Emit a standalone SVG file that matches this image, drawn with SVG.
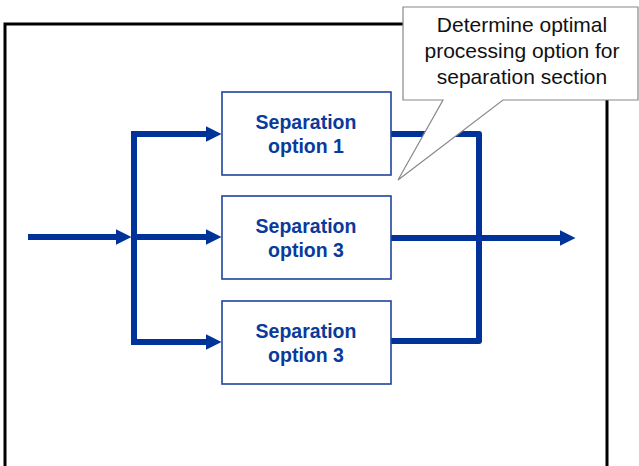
<svg xmlns="http://www.w3.org/2000/svg" width="639" height="466" viewBox="0 0 639 466">
<defs>
<style>
.box{fill:#fff;stroke:#1f44a0;stroke-width:1.6}
.lbl{font-family:"Liberation Sans",Arial,sans-serif;font-weight:bold;font-size:19.5px;fill:#0a3a9a;text-anchor:middle}
.call{font-family:"Liberation Sans",Arial,sans-serif;font-size:21px;fill:#111;text-anchor:middle}
.flow{fill:none;stroke:#003399;stroke-width:6;stroke-linejoin:round}
</style>
<marker id="ah" viewBox="0 0 16 16" refX="0.5" refY="8" markerUnits="userSpaceOnUse" markerWidth="16" markerHeight="16" orient="auto">
<path d="M0,0 L16,8 L0,16 Z" fill="#003399"/>
</marker>
</defs>
<rect width="639" height="466" fill="#fff"/>
<rect id="frame" x="5" y="24" width="602" height="460" fill="none" stroke="#000" stroke-width="3"/>
<g id="connectors">
<path class="flow" d="M28,237 H116" marker-end="url(#ah)"/>
<path class="flow" d="M134,131 V345"/>
<path class="flow" d="M131,134 H206" marker-end="url(#ah)"/>
<path class="flow" d="M134,237 H206" marker-end="url(#ah)"/>
<path class="flow" d="M131,342 H206" marker-end="url(#ah)"/>
<path class="flow" d="M391,134 H479 V341 H391" stroke-linecap="round"/>
<path class="flow" d="M391,238 H560" marker-end="url(#ah)"/>
</g>
<g id="node1">
<rect class="box" x="222" y="92" width="169" height="83"/>
<text class="lbl" x="306" y="129">Separation</text>
<text class="lbl" x="306" y="153">option 1</text>
</g>
<g id="node2">
<rect class="box" x="222" y="196" width="169" height="83"/>
<text class="lbl" x="306" y="233">Separation</text>
<text class="lbl" x="306" y="257">option 3</text>
</g>
<g id="node3">
<rect class="box" x="222" y="301" width="169" height="83"/>
<text class="lbl" x="306" y="338">Separation</text>
<text class="lbl" x="306" y="362">option 3</text>
</g>
<g id="callout">
<path d="M403,7 H638 V100 H503 L398,180 L443,100 H403 Z" fill="#fff" stroke="#888" stroke-width="1.2"/>
<text class="call" x="522" y="32">Determine optimal</text>
<text class="call" x="522" y="58">processing option for</text>
<text class="call" x="522" y="84">separation section</text>
</g>
</svg>
